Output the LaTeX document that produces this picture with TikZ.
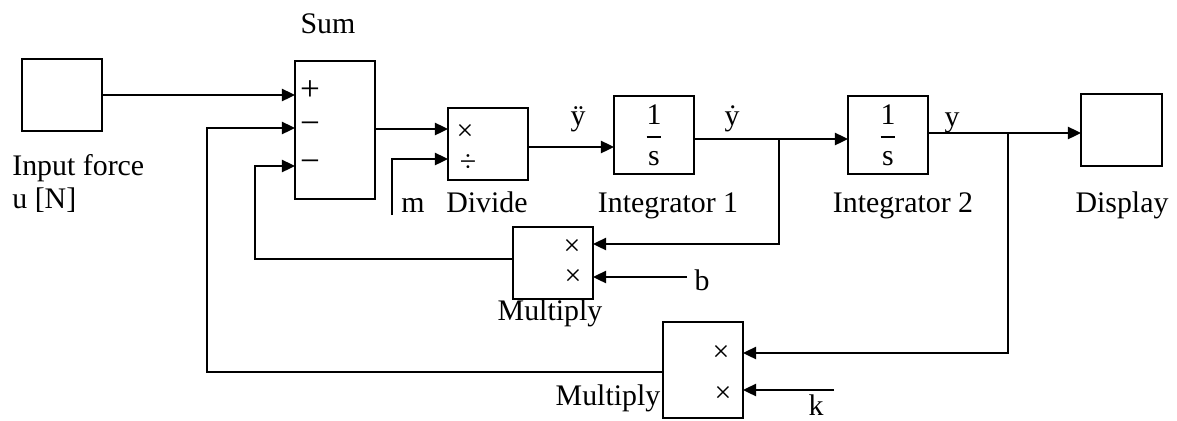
\documentclass[tikz,border=0pt]{standalone}
\usepackage{amsmath}
\usepackage{fontspec}
\setmainfont{Liberation Serif}
\usepackage{tikz}
\usetikzlibrary{arrows.meta}

\tikzset{
  block/.style={draw, line width=1.1pt, inner sep=0pt},
  sig/.style={line width=1.1pt, -{Triangle[length=7.5pt,width=7pt]}},
  sgn/.style={inner sep=0pt, font=\fontsize{20}{20}\selectfont},
  op/.style={inner sep=0pt},
  lbl/.style={inner sep=0pt, anchor=base}
}

\begin{document}
\begin{tikzpicture}[x=0.02cm, y=-0.02cm, font=\fontsize{17}{19}\selectfont]
        \useasboundingbox (0,0) rectangle (1177,420);
        % blocks
        \node[block, minimum width=1.6cm, minimum height=1.44cm] (inp) at (62,95) {};
        \node[block, minimum width=1.6cm, minimum height=2.76cm] (sum) at (335,130) {};
        \node[block, minimum width=1.6cm, minimum height=1.44cm] (div) at (488,144) {};
        \node[block, minimum width=1.6cm, minimum height=1.56cm] (int1) at (654,135) {$\dfrac{\text{1}}{\text{s}}$};
        \node[block, minimum width=1.6cm, minimum height=1.56cm] (int2) at (888,135) {$\dfrac{\text{1}}{\text{s}}$};
        \node[block, minimum width=1.62cm, minimum height=1.44cm] (disp) at (1121.5,130) {};
        \node[block, minimum width=1.6cm, minimum height=1.44cm] (mult1) at (553,263) {};
        \node[block, minimum width=1.6cm, minimum height=1.92cm] (mult2) at (703,370) {};
        % signs inside blocks
        \node[sgn] (sgnA) at (310,91) {+};
        \node[sgn] (sgnB) at (310,128) {−};
        \node[sgn] (sgnC) at (310,166) {−};
        \node[op] (divA) at (465,132) {×};
        \node[op] (divB) at (468,163) {÷};
        \node[op] (m1A) at (572,247) {×};
        \node[op] (m1B) at (573,277) {×};
        \node[op] (m2A) at (721,353) {×};
        \node[op] (m2B) at (723,394) {×};
        % ports
        \coordinate (s1) at (295,95);
        \coordinate (s2) at (295,128);
        \coordinate (s3) at (295,166);
        \coordinate (sout) at (375,129);
        \coordinate (d1) at (448,129);
        \coordinate (d2) at (448,159);
        \coordinate (dout) at (528,147);
        \coordinate (i1in) at (614,147);
        \coordinate (i1out) at (694,139);
        \coordinate (i2in) at (848,139);
        \coordinate (i2out) at (928,133);
        \coordinate (dispin) at (1081,133);
        \coordinate (m1a) at (593,244);
        \coordinate (m1b) at (593,277);
        \coordinate (m1out) at (513,259);
        \coordinate (m2a) at (743,353);
        \coordinate (m2b) at (743,390);
        \coordinate (m2out) at (663,372);
        \coordinate (br1) at (779,139);
        \coordinate (br2) at (1008,133);
        \coordinate (fb1) at (255,166);
        \coordinate (fb2) at (207,128);
        \coordinate (msrc) at (392,215);
        \coordinate (bsrc) at (687,277);
        \coordinate (ksrc) at (834,390);
        % connections
        \draw[sig] (inp.east) -- (s1);
        \draw[sig] (sout) -- (d1);
        \draw[sig] (msrc) |- (d2);
        \draw[sig] (dout) -- (i1in);
        \draw[sig] (i1out) -- (i2in);
        \draw[sig] (i2out) -- (dispin);
        \draw[sig] (br1) |- (m1a);
        \draw[sig] (bsrc) -- (m1b);
        \draw[sig] (m1out) -| (fb1) -- (s3);
        \draw[sig] (br2) |- (m2a);
        \draw[sig] (ksrc) -- (m2b);
        \draw[sig] (m2out) -| (fb2) -- (s2);
        % labels
        \node[lbl] (lblSum) at (328,33) {Sum};
        \node[inner sep=0pt, anchor=north west, align=left] (lblInp) at (12,154) {Input force\\u [N]};
        \node[lbl] (lblM) at (413,212) {m};
        \node[lbl] (lblDiv) at (487,212) {Divide};
        \node[lbl] (lblInt1) at (668,212) {Integrator 1};
        \node[lbl] (lblInt2) at (903,212) {Integrator 2};
        \node[lbl] (lblDisp) at (1122,212) {Display};
        \node[lbl] (lblAcc) at (578,125) {ÿ};
        \node[lbl] (lblVel) at (732,125) {ẏ};
        \node[lbl] (lblPos) at (952,126) {y};
        \node[lbl] (lblB) at (702,290) {b};
        \node[lbl] (lblK) at (816,415) {k};
        \node[lbl] (lblMul1) at (550,320) {Multiply};
        \node[lbl] (lblMul2) at (608,405) {Multiply};
      \end{tikzpicture}
\end{document}
